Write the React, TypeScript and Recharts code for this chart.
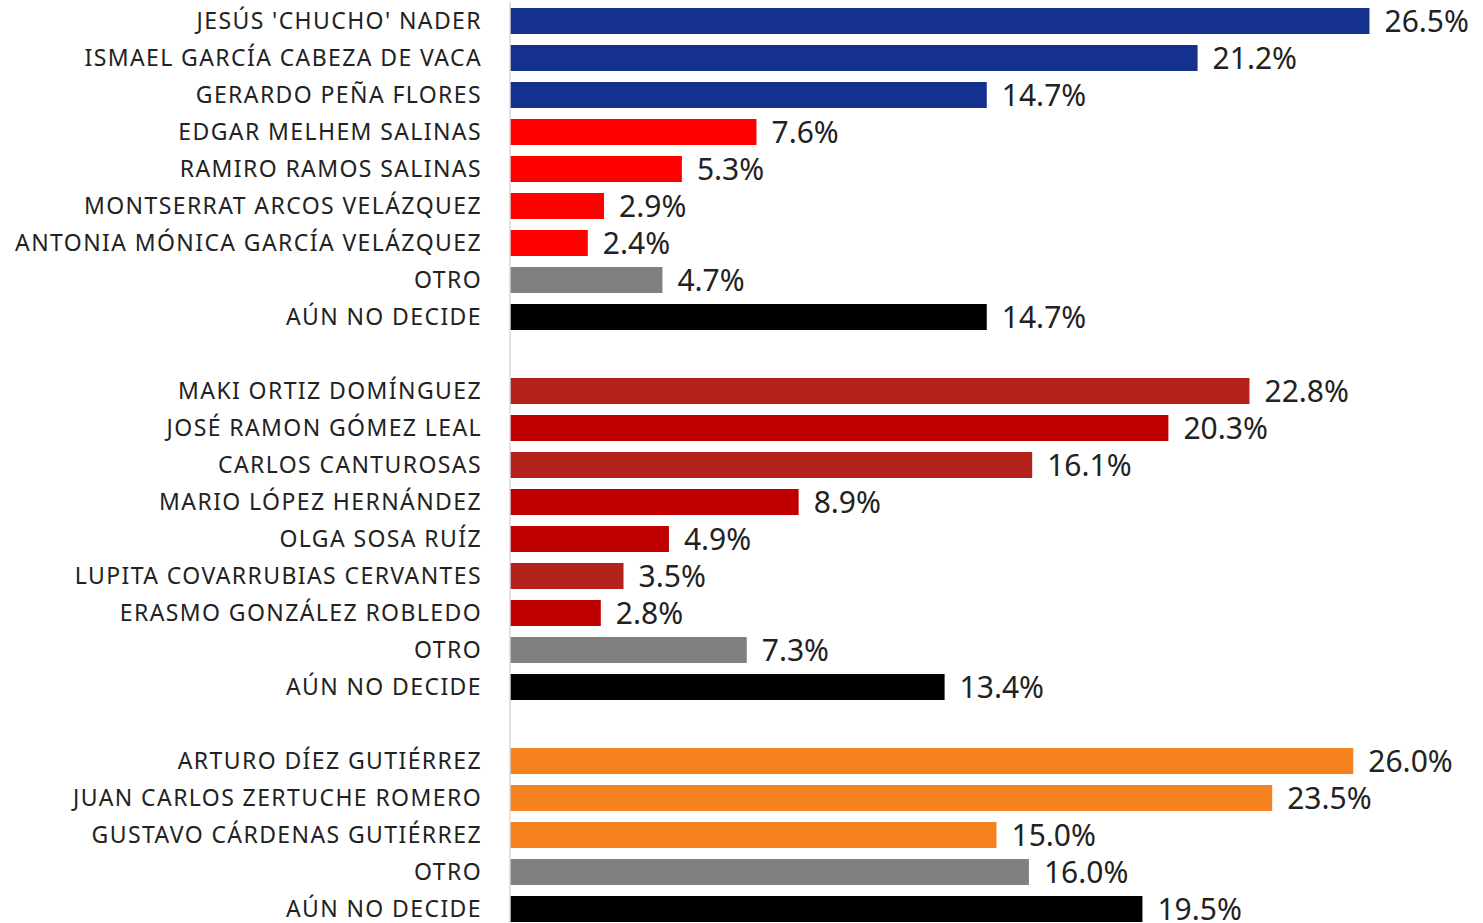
import { BarChart, Bar, XAxis, YAxis, Cell, LabelList } from "recharts";

const FONT = "'Noto Sans', sans-serif";

const categories = [
  "JESÚS 'CHUCHO' NADER",
  "ISMAEL GARCÍA CABEZA DE VACA",
  "GERARDO PEÑA FLORES",
  "EDGAR MELHEM SALINAS",
  "RAMIRO RAMOS SALINAS",
  "MONTSERRAT ARCOS VELÁZQUEZ",
  "ANTONIA MÓNICA GARCÍA VELÁZQUEZ",
  "OTRO",
  "AÚN NO DECIDE",
  "",
  "MAKI ORTIZ DOMÍNGUEZ",
  "JOSÉ RAMON GÓMEZ LEAL",
  "CARLOS CANTUROSAS",
  "MARIO LÓPEZ HERNÁNDEZ",
  "OLGA SOSA RUÍZ",
  "LUPITA COVARRUBIAS CERVANTES",
  "ERASMO GONZÁLEZ ROBLEDO",
  "OTRO",
  "AÚN NO DECIDE",
  "",
  "ARTURO DÍEZ GUTIÉRREZ",
  "JUAN CARLOS ZERTUCHE ROMERO",
  "GUSTAVO CÁRDENAS GUTIÉRREZ",
  "OTRO",
  "AÚN NO DECIDE",
];

const values: (number | null)[] = [
  26.5, 21.2, 14.7, 7.6, 5.3, 2.9, 2.4, 4.7, 14.7, null,
  22.8, 20.3, 16.1, 8.9, 4.9, 3.5, 2.8, 7.3, 13.4, null,
  26.0, 23.5, 15.0, 16.0, 19.5,
];

const barColors = [
  "#15318e", "#15318e", "#15318e", "#ff0000", "#ff0000", "#ff0000", "#ff0000", "#808080", "#000000", "#ffffff",
  "#b5221b", "#c00000", "#b5221b", "#c00000", "#c00000", "#b5221b", "#c00000", "#808080", "#000000", "#ffffff",
  "#f5821f", "#f5821f", "#f5821f", "#808080", "#000000",
];

const data = categories.map((name, i) => ({
  key: `${i}|${name}`,
  value: values[i],
}));

export default function App() {
  return (
    <div style={{ position: "absolute", top: 0, left: 0, width: 1483, height: 923, overflow: "hidden", background: "#fff" }}>
      <BarChart
        width={1483}
        height={927}
        data={data}
        layout="vertical"
        margin={{ top: 2, right: 0, bottom: 0, left: 0 }}
      >
        <XAxis type="number" domain={[0, 30]} hide />
        <YAxis
          type="category"
          dataKey="key"
          width={510}
          interval={0}
          tickLine={false}
          tickSize={6}
          tickMargin={22}
          axisLine={{ stroke: "#d9d9d9", strokeWidth: 1.5 }}
          tick={{ fill: "#222222", fontSize: 23, fontFamily: FONT, letterSpacing: 1.4 }}
          tickFormatter={(v: string) => v.split("|")[1]}
        />
        <Bar dataKey="value" barSize={26} isAnimationActive={false}>
          {data.map((d, i) => (
            <Cell key={d.key} fill={barColors[i]} />
          ))}
          <LabelList
            dataKey="value"
            position="right"
            offset={15}
            fill="#222222"
            fontSize={30}
            fontFamily={FONT}
            formatter={(v: any) => (v == null ? "" : `${Number(v).toFixed(1)}%`)}
          />
        </Bar>
      </BarChart>
    </div>
  );
}
